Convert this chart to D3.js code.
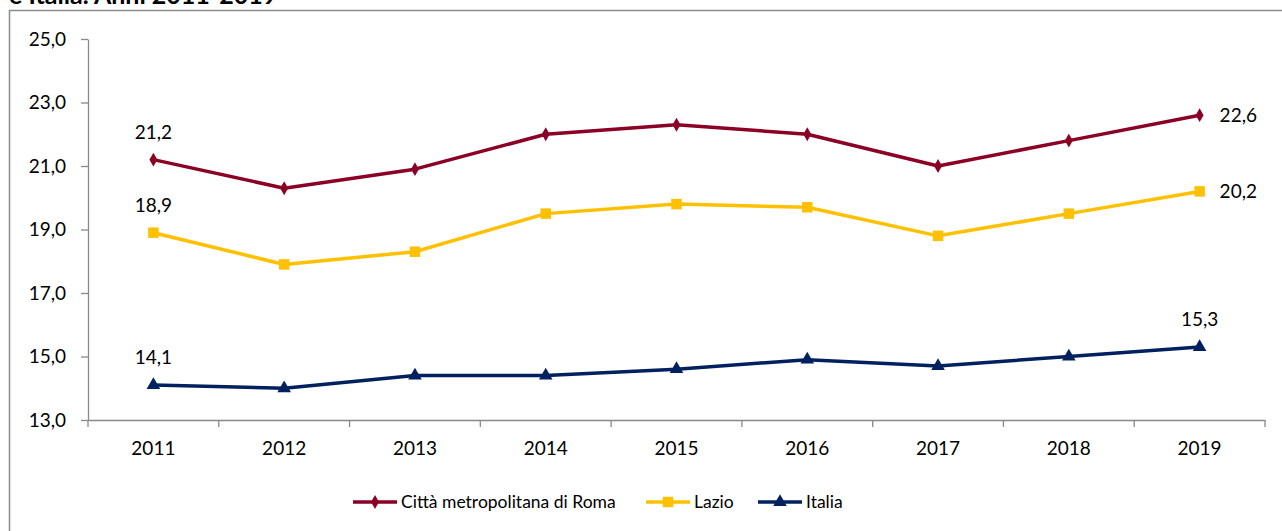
<!DOCTYPE html>
<html>
<head>
<meta charset="utf-8">
<script src="https://cdn.jsdelivr.net/npm/d3@7"></script>
<style>
  body { margin: 0; background: #fff; overflow: hidden; }
  svg text { font-family: Lato, "Open Sans", sans-serif; fill: #000; }
</style>
</head>
<body>
<div id="chart"></div>
<script>
// chart values
var years = [2011, 2012, 2013, 2014, 2015, 2016, 2017, 2018, 2019]
var roma = [21.2, 20.3, 20.9, 22.0, 22.3, 22.0, 21.0, 21.8, 22.6]
var lazio = [18.9, 17.9, 18.3, 19.5, 19.8, 19.7, 18.8, 19.5, 20.2]
var italia = [14.1, 14.0, 14.4, 14.4, 14.6, 14.9, 14.7, 15.0, 15.3]
var yTicks = [13, 15, 17, 19, 21, 23, 25]
var seriesNames = ["Città metropolitana di Roma", "Lazio", "Italia"]
var title = "e Italia. Anni 2011-2019"

var width = 1282, height = 531

var series = [
    { name: seriesNames[0], values: roma, color: "#8b0025", symbol: d3.symbolDiamond, size: 55, lastPos: "right" },
    { name: seriesNames[1], values: lazio, color: "#ffc000", symbol: d3.symbolSquare, size: 110, lastPos: "right" },
    { name: seriesNames[2], values: italia, color: "#002060", symbol: d3.symbolTriangle, size: 80, lastPos: "top" }
]

var it = d3.formatLocale({ decimal: ",", thousands: ".", grouping: [3], currency: ["", "€"] })
var fmt = it.format(".1f")

var svg = d3.select("#chart")
    .append("svg")
    .attr("width", width)
    .attr("height", height)

// title, mostly cut off at the top like in the original
svg.append("text")
    .attr("x", 9)
    .attr("y", 4)
    .style("font-weight", "bold")
    .style("font-size", "25px")
    .text(title)

// chart frame (runs off right and bottom)
svg.append("rect")
    .attr("x", 9.5)
    .attr("y", 10.5)
    .attr("width", 1400)
    .attr("height", 600)
    .attr("fill", "none")
    .attr("stroke", "#8c8c8c")
    .attr("stroke-width", 1.5)

var x = d3.scaleBand()
    .domain(years)
    .range([88, 1265])
    .padding(0)

var y = d3.scaleLinear()
    .domain([13, 25])
    .range([420, 39])

var axisColor = "#898989"

// y axis
var yAxis = svg.append("g")
    .attr("transform", "translate(88,0)")
    .call(d3.axisLeft(y).tickValues(yTicks).tickFormat(fmt).tickSize(7).tickPadding(15).tickSizeOuter(0))
yAxis.select(".domain").attr("stroke", axisColor).attr("stroke-width", 1.3)
yAxis.selectAll(".tick line").attr("stroke", axisColor).attr("stroke-width", 1.3)
yAxis.selectAll("text").style("font-size", "19px").attr("fill", "#000")

// x axis with ticks between categories
var xAxis = svg.append("g")
    .attr("transform", "translate(0,420)")
    .call(d3.axisBottom(x).tickSize(0).tickPadding(22).tickSizeOuter(0))
xAxis.select(".domain").attr("stroke", axisColor).attr("stroke-width", 1.3)
xAxis.selectAll("text").style("font-size", "19px").attr("fill", "#000")
var bounds = years.map(function (d) { return x(d) }).concat([x(years[years.length - 1]) + x.bandwidth()])
xAxis.selectAll(".sep")
    .data(bounds)
    .enter()
    .append("line")
    .attr("x1", function (d) { return d })
    .attr("x2", function (d) { return d })
    .attr("y1", 0)
    .attr("y2", 7)
    .attr("stroke", axisColor)
    .attr("stroke-width", 1.3)

var line = d3.line()
    .x(function (d, i) { return x(years[i]) + x.bandwidth() / 2 })
    .y(function (d) { return y(d) })

series.forEach(function (s) {
    var g = svg.append("g")
    g.append("path")
        .datum(s.values)
        .attr("d", line)
        .attr("fill", "none")
        .attr("stroke", s.color)
        .attr("stroke-width", 3.5)
        .attr("stroke-linejoin", "round")
    g.selectAll(".pt")
        .data(s.values)
        .enter()
        .append("path")
        .attr("d", d3.symbol().type(s.symbol).size(s.size))
        .attr("transform", function (d, i) {
            return "translate(" + (x(years[i]) + x.bandwidth() / 2) + "," + y(d) + ")"
        })
        .attr("fill", s.color)

    // first value label, above the point
    var n = s.values.length
    g.append("text")
        .attr("x", x(years[0]) + x.bandwidth() / 2)
        .attr("y", y(s.values[0]) - 21)
        .attr("text-anchor", "middle")
        .style("font-size", "19px")
        .text(fmt(s.values[0]))
    // last value label
    var lx = x(years[n - 1]) + x.bandwidth() / 2
    if (s.lastPos == "right") {
        g.append("text")
            .attr("x", lx + 20)
            .attr("y", y(s.values[n - 1]))
            .attr("dy", "0.35em")
            .style("font-size", "19px")
            .text(fmt(s.values[n - 1]))
    } else {
        g.append("text")
            .attr("x", lx)
            .attr("y", y(s.values[n - 1]) - 21)
            .attr("text-anchor", "middle")
            .style("font-size", "19px")
            .text(fmt(s.values[n - 1]))
    }
})

// legend
var legendX = [353, 646, 758]
var legend = svg.append("g")
series.forEach(function (s, i) {
    var lg = legend.append("g").attr("transform", "translate(" + legendX[i] + ",502)")
    lg.append("line")
        .attr("x1", 0).attr("x2", 44)
        .attr("y1", 0).attr("y2", 0)
        .attr("stroke", s.color)
        .attr("stroke-width", 3.5)
    lg.append("path")
        .attr("d", d3.symbol().type(s.symbol).size(s.size))
        .attr("transform", "translate(22,0)")
        .attr("fill", s.color)
    lg.append("text")
        .attr("x", 48)
        .attr("y", 0)
        .attr("dy", "0.35em")
        .style("font-size", "17.5px")
        .text(s.name)
})
</script>
</body>
</html>
